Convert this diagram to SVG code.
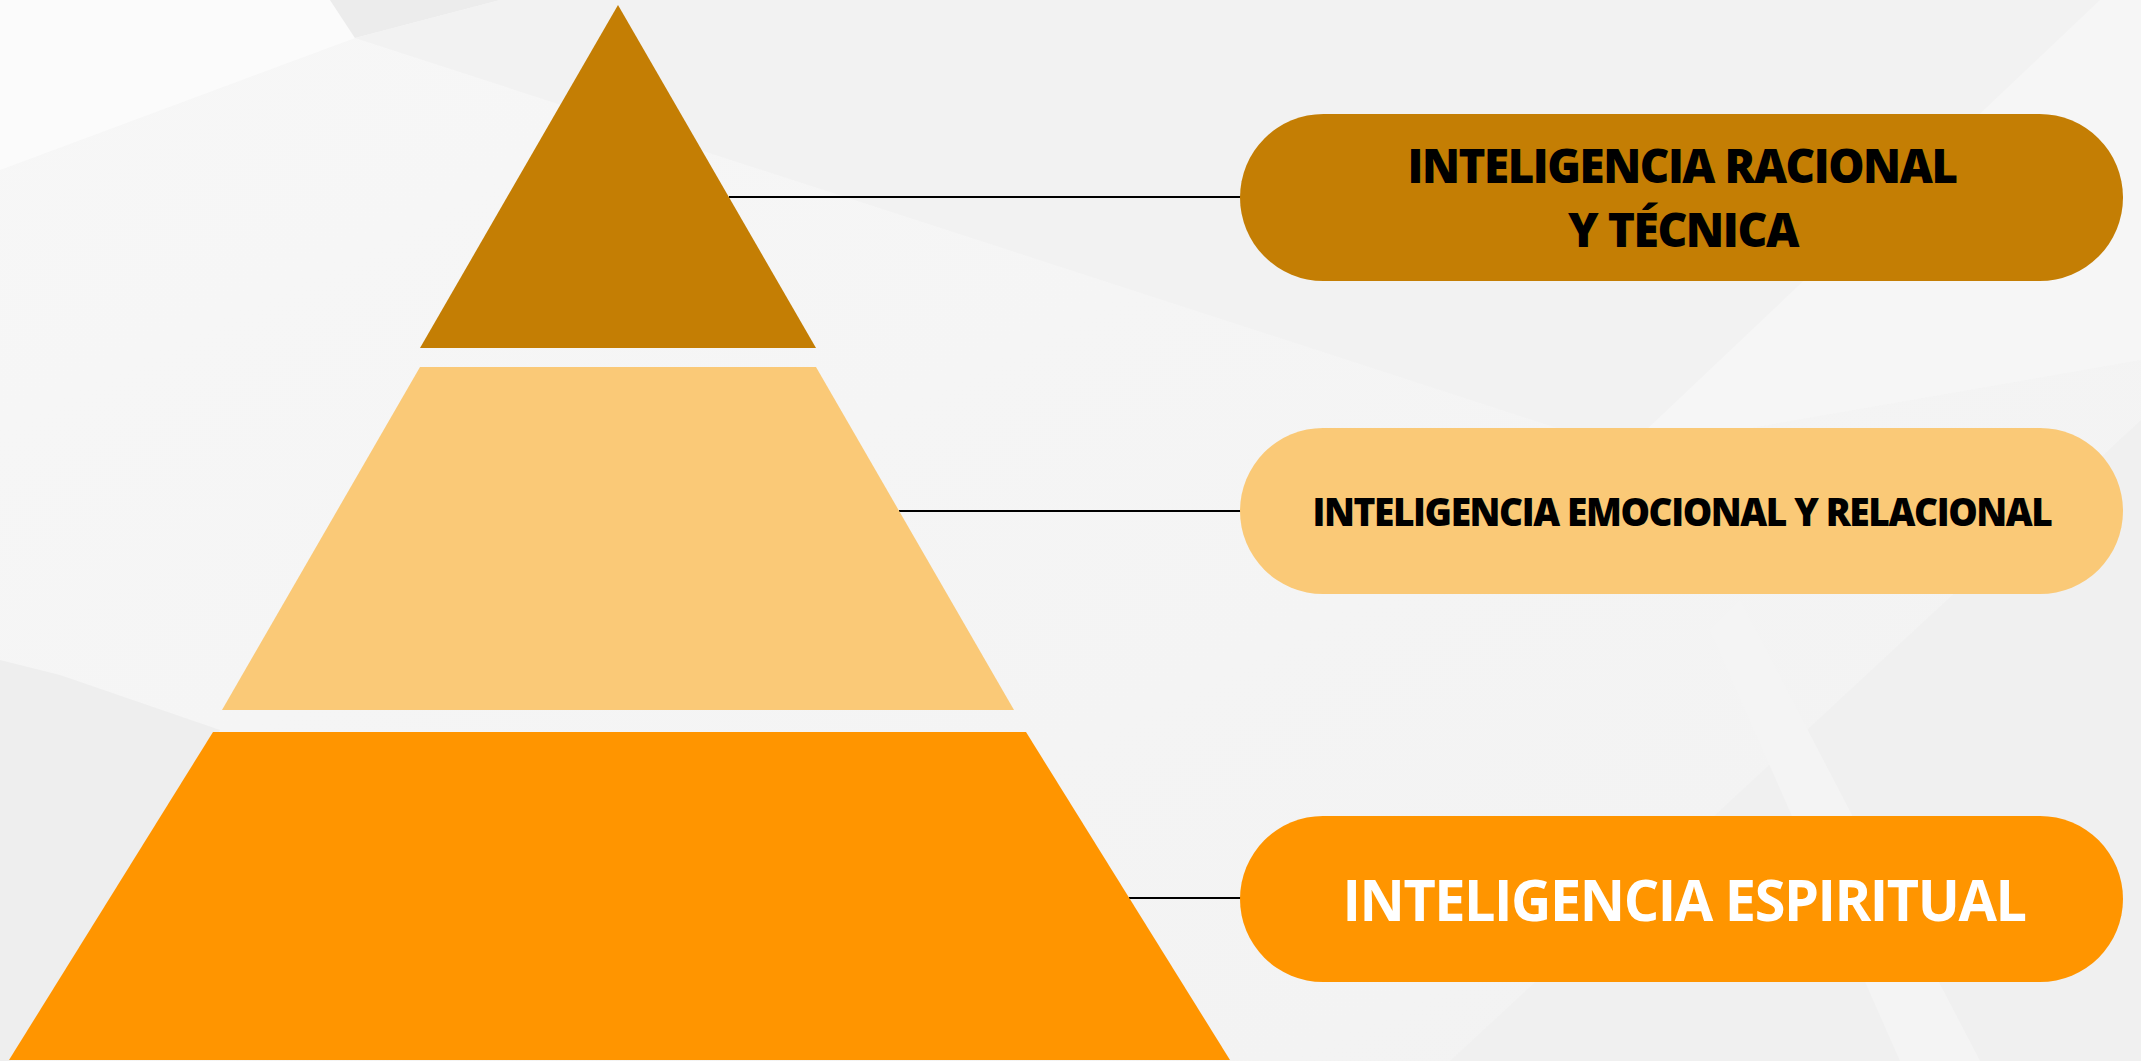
<svg xmlns="http://www.w3.org/2000/svg" width="2141" height="1061" viewBox="0 0 2141 1061">
  <style>
    .c-top { fill: #C47E04; }
    .c-mid { fill: #FAC977; }
    .c-bot { fill: #FF9500; }
    .lbl { font-family: "Open Sans", "Liberation Sans", sans-serif; font-weight: 800; text-anchor: middle; letter-spacing: -1.5px; }
    .dark { fill: #000000; }
    .light { fill: #FFFFFF; font-weight: 700; }
    .conn { stroke: #000000; stroke-width: 2; fill: none; }
  </style>
  <defs>
    <linearGradient id="bg" x1="0" y1="0" x2="1" y2="1">
      <stop offset="0" stop-color="#F7F7F7"/>
      <stop offset="1" stop-color="#F2F2F2"/>
    </linearGradient>
  </defs>

  <g id="background">
    <rect x="0" y="0" width="2141" height="1061" fill="url(#bg)"/>
    <polygon points="0,0 330,0 355,38 0,170" fill="#FBFBFB"/>
    <polygon points="330,0 500,0 355,38" fill="#ECECEC"/>
    <polygon points="500,0 2141,0 2141,360 1625,450 355,38" fill="#F2F2F2"/>
    <polygon points="2100,0 2141,0 2141,360 1625,450" fill="#F6F6F6"/>
    <polygon points="0,660 60,675 220,730 10,1061 0,1061" fill="#EEEEEE"/>
    <polygon points="1450,1061 2141,420 2141,1061" fill="#F0F0F0"/>
    <polygon points="1740,600 1980,1061 1900,1061 1710,630" fill="#F4F4F4"/>
  </g>

  <g id="connectors">
    <line class="conn" x1="729" y1="197" x2="1250" y2="197"/>
    <line class="conn" x1="899" y1="511" x2="1250" y2="511"/>
    <line class="conn" x1="1129" y1="898" x2="1250" y2="898"/>
  </g>

  <g id="tier-top">
    <polygon class="c-top" points="618,5 816,348 420,348"/>
  </g>
  <g id="tier-middle">
    <polygon class="c-mid" points="420,367 816,367 1014,710 222,710"/>
  </g>
  <g id="tier-bottom">
    <polygon class="c-bot" points="213,732 1026,732 1230,1060 9,1060"/>
  </g>

  <g id="node-racional">
    <rect class="c-top" x="1240" y="114" width="883" height="167" rx="83.5" ry="83.5"/>
    <text class="lbl dark" x="1682" y="183" font-size="48" textLength="549" lengthAdjust="spacingAndGlyphs">INTELIGENCIA RACIONAL</text>
    <text class="lbl dark" x="1683" y="247" font-size="48" textLength="230" lengthAdjust="spacingAndGlyphs">Y TÉCNICA</text>
  </g>
  <g id="node-emocional">
    <rect class="c-mid" x="1240" y="428" width="883" height="166" rx="83" ry="83"/>
    <text class="lbl dark" x="1682" y="526" font-size="39" textLength="739" lengthAdjust="spacingAndGlyphs">INTELIGENCIA EMOCIONAL Y RELACIONAL</text>
  </g>
  <g id="node-espiritual">
    <rect class="c-bot" x="1240" y="816" width="883" height="166" rx="83" ry="83"/>
    <text class="lbl light" x="1684" y="921" font-size="57" textLength="683" lengthAdjust="spacingAndGlyphs">INTELIGENCIA ESPIRITUAL</text>
  </g>
</svg>
